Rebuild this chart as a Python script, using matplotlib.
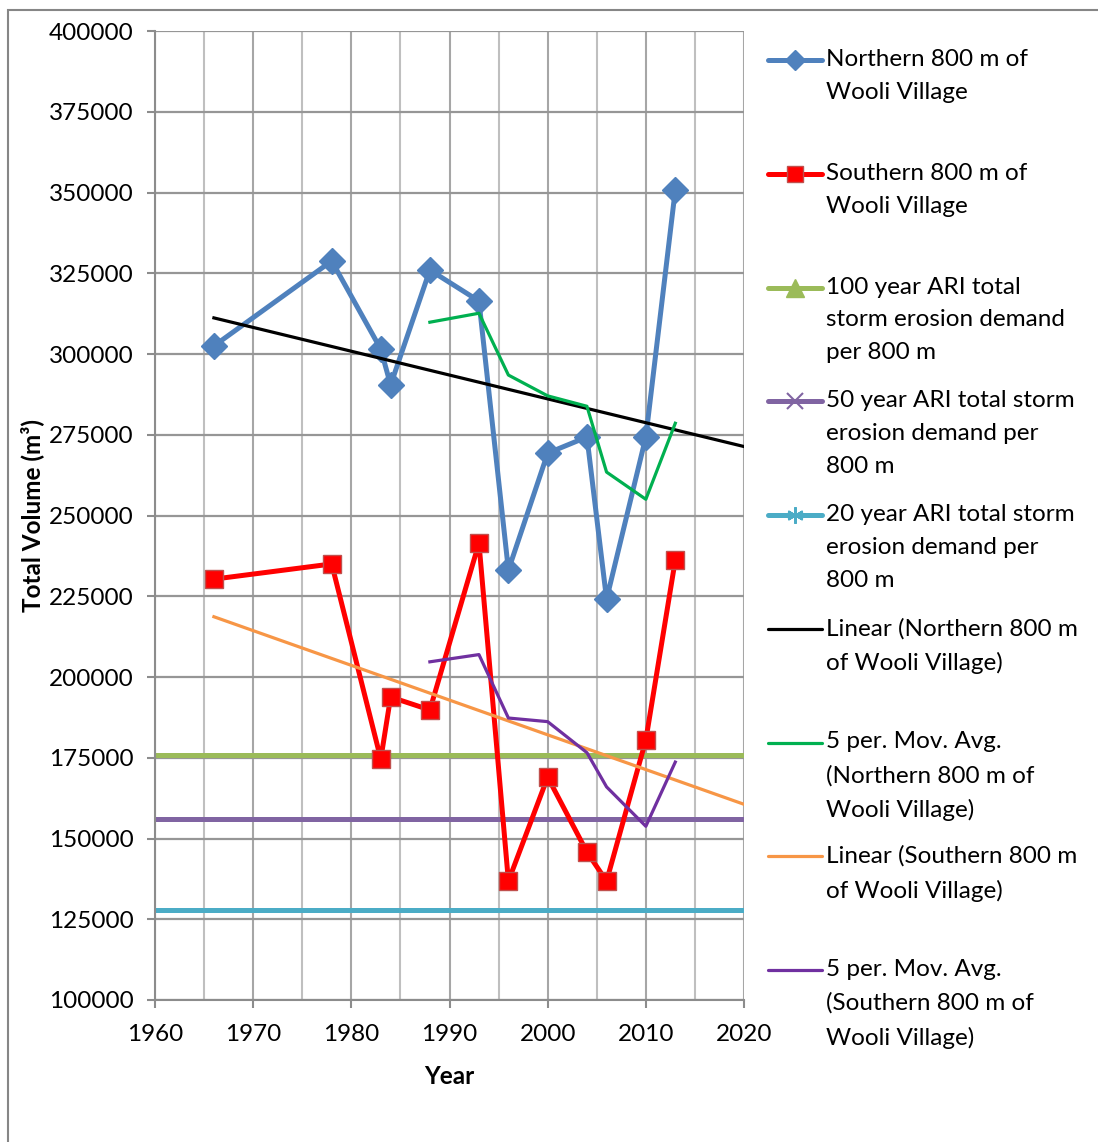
import numpy as np
import matplotlib
matplotlib.use("Agg")
import matplotlib.pyplot as plt
from matplotlib.lines import Line2D
from matplotlib.patches import Rectangle

plt.rcParams['font.family'] = ['Lato', 'DejaVu Sans']

# ---------------- data ----------------
years = [1966, 1978, 1983, 1984, 1988, 1993, 1996, 2000, 2004, 2006, 2010, 2013]
northern = [302500, 328800, 301500, 290400, 326000, 316400, 233100, 269300, 274300, 224100, 274300, 350800]
southern = [230300, 235000, 174600, 193800, 189800, 241500, 136800, 169000, 145800, 136800, 180500, 236200]
ari100 = 176000
ari50 = 156000
ari20 = 128000
xlim = [1960, 2020]
ylim = [100000, 400000]
x_ticks = [1960, 1970, 1980, 1990, 2000, 2010, 2020]
y_ticks = list(range(100000, 400001, 25000))

legend_labels = [
    "Northern 800 m of\nWooli Village",
    "Southern 800 m of\nWooli Village",
    "100 year ARI total\nstorm erosion demand\nper 800 m",
    "50 year ARI total storm\nerosion demand per\n800 m",
    "20 year ARI total storm\nerosion demand per\n800 m",
    "Linear (Northern 800 m\nof Wooli Village)",
    "5 per. Mov. Avg.\n(Northern 800 m of\nWooli Village)",
    "Linear (Southern 800 m\nof Wooli Village)",
    "5 per. Mov. Avg.\n(Southern 800 m of\nWooli Village)",
]

# colours
c_north = '#4F81BD'
c_south = '#FF0000'
c_south_edge = '#C0504D'
c_100 = '#9BBB59'
c_50 = '#8064A2'
c_20 = '#4BACC6'
c_lin_n = '#000000'
c_ma_n = '#00B050'
c_lin_s = '#F79646'
c_ma_s = '#7030A0'

FS = 17.5
W, H = 1098, 1142
fig = plt.figure(figsize=(W / 100, H / 100), dpi=100)

def fx(px):
    return px / W

def fy(py):
    return 1 - py / H

ax = fig.add_axes([fx(155), fy(1000), fx(744) - fx(155), fy(31) - fy(1000)])
ax.set_xlim(*xlim)
ax.set_ylim(*ylim)

# grid
ax.set_xticks(x_ticks)
ax.set_xticks(np.arange(1965, 2020, 10), minor=True)
ax.set_yticks(y_ticks)
ax.grid(True, which='major', axis='y', color='#969696', linewidth=1.6, zorder=0)
ax.grid(True, which='major', axis='x', color='#A6A6A6', linewidth=1.5, zorder=0)
ax.grid(True, which='minor', axis='x', color='#BFBFBF', linewidth=1.5, zorder=0)
ax.set_axisbelow(True)
for s in ['top', 'right']:
    ax.spines[s].set_visible(False)
for s in ['left', 'bottom']:
    ax.spines[s].set_color('#8C8C8C')
    ax.spines[s].set_linewidth(1.5)
ax.tick_params(axis='both', which='major', direction='out', length=5.5, width=1.5,
               color='#8C8C8C', labelsize=FS, labelcolor='black')
ax.tick_params(axis='x', which='minor', length=0)
ax.tick_params(axis='y', pad=10)
ax.tick_params(axis='x', pad=12)
ax.yaxis.set_major_formatter(matplotlib.ticker.FuncFormatter(lambda v, p: f"{int(v)}"))

# horizontal ARI lines
ax.plot(xlim, [ari100, ari100], color=c_100, lw=3.6, zorder=2, solid_capstyle='butt')
ax.plot(xlim, [ari50, ari50], color=c_50, lw=3.6, zorder=2, solid_capstyle='butt')
ax.plot(xlim, [ari20, ari20], color=c_20, lw=3.6, zorder=2, solid_capstyle='butt')

# trendlines
yrs = np.array(years, dtype=float)
n_arr = np.array(northern, dtype=float)
s_arr = np.array(southern, dtype=float)
xt = np.array([years[0], xlim[1]], dtype=float)
pn = np.polyfit(yrs, n_arr, 1)
ps = np.polyfit(yrs, s_arr, 1)
ax.plot(xt, np.polyval(pn, xt), color=c_lin_n, lw=2.3, zorder=4)
ax.plot(xt, np.polyval(ps, xt), color=c_lin_s, lw=2.3, zorder=4)

# moving averages (5 period)
ma_n = np.convolve(n_arr, np.ones(5) / 5, mode='valid')
ma_s = np.convolve(s_arr, np.ones(5) / 5, mode='valid')
ax.plot(yrs[4:], ma_n, color=c_ma_n, lw=2.3, zorder=4)
ax.plot(yrs[4:], ma_s, color=c_ma_s, lw=2.3, zorder=4)

# main series
ax.plot(years, northern, color=c_north, lw=3.6, marker='D', markersize=13,
        markerfacecolor=c_north, markeredgecolor=c_north, zorder=3)
ax.plot(years, southern, color=c_south, lw=3.6, marker='s', markersize=13.5,
        markerfacecolor=c_south, markeredgecolor=c_south_edge, markeredgewidth=1.0, zorder=3)

ax.set_xlabel('Year', fontsize=FS, fontweight='bold', labelpad=14)
ax.set_ylabel('Total Volume (m³)', fontsize=FS, fontweight='bold', labelpad=3)

# ---------------- legend (manual) ----------------
handles = [
    dict(color=c_north, lw=3.6, marker='D', ms=10, mfc=c_north, mec=c_north),
    dict(color=c_south, lw=3.6, marker='s', ms=12, mfc=c_south, mec=c_south_edge),
    dict(color=c_100, lw=3.6, marker='^', ms=13, mfc=c_100, mec=c_100),
    dict(color=c_50, lw=3.6, marker='x', ms=12, mfc=c_50, mec=c_50, mew=1.5),
    dict(color=c_20, lw=3.6, marker=(6, 2, 0), ms=12, mfc=c_20, mec=c_20, mew=1.5),
    dict(color=c_lin_n, lw=2.3, marker=None),
    dict(color=c_ma_n, lw=2.3, marker=None),
    dict(color=c_lin_s, lw=2.3, marker=None),
    dict(color=c_ma_s, lw=2.3, marker=None),
]
entry_y0 = 60
entry_step = 113.75
for i, (lab, h) in enumerate(zip(legend_labels, handles)):
    yc = entry_y0 + i * entry_step
    kw = dict(color=h['color'], lw=h['lw'], solid_capstyle='round', transform=fig.transFigure)
    fig.add_artist(Line2D([fx(768), fx(822)], [fy(yc), fy(yc)], **kw))
    if h['marker'] is not None:
        fig.add_artist(Line2D([fx(795)], [fy(yc)], marker=h['marker'], markersize=h['ms'],
                              markerfacecolor=h['mfc'], markeredgecolor=h['mec'],
                              markeredgewidth=h.get('mew', 1.0), linestyle='none',
                              transform=fig.transFigure))
    fig.text(fx(826), fy(yc - 11), lab, fontsize=FS, va='top', ha='left',
             linespacing=1.7, color='black')

# chart area border
fig.add_artist(Rectangle((fx(8), fy(1200)), fx(1200) - fx(8), fy(10) - fy(1200),
                         fill=False, edgecolor='#868686', lw=1.5, transform=fig.transFigure))

fig.savefig('out.png', dpi=100)
